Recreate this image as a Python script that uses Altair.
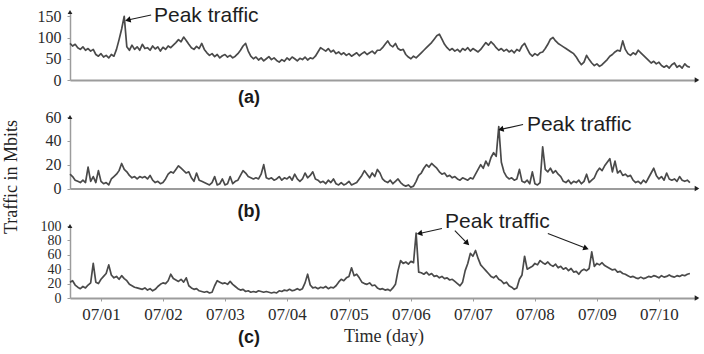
import altair as alt
import pandas as pd

# Hourly traffic samples (Mbits), starting 06/30 12:00
traffic_a = [
    86, 80, 84, 76, 72, 78, 70, 74, 68, 72,
    60, 56, 62, 54, 58, 52, 60, 56, 72, 95,
    120, 150, 78, 70, 82, 72, 78, 70, 84, 74,
    76, 70, 80, 73, 78, 68, 77, 72, 80, 76,
    82, 88, 95, 90, 101, 93, 84, 76, 72, 79,
    74, 86, 72, 64, 58, 62, 55, 60, 52, 57,
    60, 54, 58, 52, 56, 62, 70, 80, 86, 68,
    56, 50, 54, 47, 52, 45, 50, 55, 48, 52,
    46, 42, 48, 44, 52, 47, 54, 50, 45, 51,
    48, 54, 47, 52, 50, 56, 66, 76, 72, 68,
    74, 66, 70, 62, 66, 60, 64, 58, 62, 56,
    60, 64, 57, 62, 66, 60, 64, 68, 62, 70,
    70, 76, 84, 92, 82, 78, 86, 74, 70, 72,
    60, 54, 50, 56, 52, 58, 64, 70, 76, 82,
    88, 96, 104, 108, 96, 84, 76, 70, 74, 68,
    72, 66, 74, 70, 76, 68, 74, 70, 66, 72,
    80, 88, 82, 90, 84, 76, 70, 74, 68, 72,
    66, 70, 64, 72, 68, 80, 86, 74, 62, 56,
    62, 58, 64, 66, 74, 84, 96, 100, 92, 86,
    82, 78, 74, 70, 66, 62, 54, 44, 36, 42,
    58, 48, 40, 34, 38, 32, 36, 42, 48, 56,
    60, 66, 70, 68, 92, 72, 62, 58, 64, 60,
    70, 64, 58, 52, 46, 40, 44, 38, 42, 34,
    30, 34, 28, 36, 40, 30, 34, 28, 38, 32,
    30,
]
traffic_b = [
    12, 10, 7, 6, 5, 7, 5, 18, 6, 10,
    5, 15, 6, 4, 5, 3, 8, 10, 12, 15,
    21, 16, 14, 11, 9, 10, 8, 10, 9, 10,
    8, 11, 7, 5, 6, 4, 5, 8, 12, 14,
    13, 16, 19, 17, 15, 13, 14, 9, 6, 13,
    7, 6, 5, 4, 3, 5, 10, 3, 4, 8,
    3, 4, 10, 4, 6, 7, 11, 15, 13, 10,
    9, 8, 9, 8, 12, 20, 9, 8, 9, 7,
    8, 10, 7, 9, 8, 10, 7, 12, 8, 6,
    8, 13, 9, 11, 14, 8, 7, 5, 6, 4,
    7, 5, 8, 4, 3, 5, 3, 4, 6, 3,
    4, 5, 8, 11, 15, 12, 9, 13, 10, 16,
    13, 8, 6, 5, 7, 4, 6, 8, 5, 3,
    2, 3, 1, 2, 6, 11, 13, 17, 20, 18,
    21, 19, 17, 14, 12, 13, 10, 11, 9, 10,
    8, 7, 9, 8, 7, 9, 8, 12, 16, 20,
    17, 23, 19, 26, 30, 27, 52, 22, 14, 10,
    8, 9, 7, 8, 16, 6, 5, 7, 4, 14,
    4, 3, 5, 35, 16, 14, 17, 13, 15, 12,
    10, 6, 5, 7, 4, 6, 5, 7, 4, 6,
    12, 5, 7, 9, 14, 17, 15, 19, 22, 25,
    14, 23, 13, 15, 11, 12, 10, 11, 7, 5,
    6, 4, 7, 5, 9, 13, 17, 11, 8, 10,
    7, 13, 8, 7, 8, 6, 10, 7, 6, 7,
    5,
]
traffic_c = [
    22, 24, 18, 15, 13, 16, 14, 18, 21, 48,
    22, 20, 26, 30, 34, 46, 32, 28, 30, 26,
    31, 27, 24, 19, 17, 15, 14, 13, 12, 14,
    11, 13, 10, 12, 16, 19, 21, 20, 24, 33,
    27, 25, 23, 26, 22, 28, 17, 14, 12, 13,
    10, 9, 8, 9, 7, 8, 17, 24, 22, 20,
    21, 19, 23, 19, 16, 13, 11, 12, 9, 10,
    8, 9, 8, 10, 9, 8, 9, 8, 7, 8,
    7, 10, 9, 11, 10, 12, 10, 11, 13, 11,
    13, 21, 33, 18, 14, 15, 13, 15, 14, 16,
    13, 15, 14, 17, 22, 26, 24, 28, 30, 42,
    31, 33, 28, 22, 20, 19, 21, 17, 18, 14,
    12, 13, 11, 12, 10, 14, 19, 38, 52, 48,
    50, 47, 51, 49, 90, 36, 35, 33, 36, 32,
    34, 30, 31, 28, 30, 27, 28, 25, 26, 23,
    20, 17, 22, 38, 48, 62, 58, 66, 55, 46,
    42, 38, 34, 30, 28, 31, 26, 24, 20, 22,
    17, 15, 12, 14, 26, 32, 58, 40, 42, 44,
    48, 46, 52, 49, 47, 50, 46, 44, 47, 42,
    44, 40, 42, 38, 41, 36, 37, 33, 38, 40,
    38, 41, 64, 44, 48, 46, 49, 45, 43, 41,
    39, 40, 36, 37, 34, 33, 31, 29, 30, 28,
    27, 29, 27, 28, 30, 29, 31, 30, 28, 31,
    29, 30, 32, 30, 29, 31, 30, 32, 31, 33,
    34,
]

# "Peak traffic" labels: panel, hour offset, value
label_panel = ["a", "b", "c"]
label_hour = [32.5, 176.9, 145.2]
label_value = [150, 53, 105]

# Arrows: panel, start (hour, value), end (hour, value), head angle
arrow_panel = ["a", "b", "c", "c", "c"]
arrow_h1 = [31.4, 175.4, 144.0, 149.0, 185.0]
arrow_v1 = [153, 53.7, 96.5, 93.7, 89.6]
arrow_h2 = [22.4, 166.8, 135.3, 153.8, 199.8]
arrow_v2 = [141, 49.6, 89.6, 76.0, 69.0]
arrow_angle = [166, 165, 168, 45, 21]

day_labels = list(range(1, 11))

START = pd.Timestamp("2012-06-30 12:00")


def at(h):
    return START + pd.Timedelta(hours=h)


series = pd.DataFrame({
    "time": [at(h) for h in range(len(traffic_a))],
    "a": traffic_a,
    "b": traffic_b,
    "c": traffic_c,
})
labels = pd.DataFrame({
    "panel": label_panel,
    "time": [at(h) for h in label_hour],
    "value": label_value,
    "text": ["Peak traffic"] * len(label_panel),
})
arrows = pd.DataFrame({
    "panel": arrow_panel,
    "t1": [at(h) for h in arrow_h1],
    "v1": arrow_v1,
    "t2": [at(h) for h in arrow_h2],
    "v2": arrow_v2,
    "angle": arrow_angle,
})

SERIF = "Liberation Serif"
SANS = "Liberation Sans"
LINE = "#4a4a4a"
AXIS = "#9c9c9c"
TEXT = "#2a2a2a"
W = 627

X_DOMAIN = [
    alt.DateTime(year=2012, month=6, date=30, hours=12),
    alt.DateTime(year=2012, month=7, date=10, hours=14, minutes=45),
]
DAY_TICKS = [alt.DateTime(year=2012, month=7, date=d) for d in day_labels]


def panel(col, ymax, yticks, height, tag, tag_y, label_size=16,
          bottom=False, extra=None):
    if bottom:
        x_axis = alt.Axis(values=DAY_TICKS, format="%m/%d", title="Time (day)",
                          labelFontSize=17, labelPadding=5, tickSize=3,
                          labelOverlap=False, labelFlush=False,
                          titleFont=SERIF, titleFontSize=18, titleFontWeight="normal",
                          titleColor=TEXT, titlePadding=5, domainWidth=2)
    else:
        x_axis = alt.Axis(labels=False, ticks=False, title=None, domainWidth=2)
    x_scale = alt.Scale(domain=X_DOMAIN)
    y_scale = alt.Scale(domain=[0, ymax], nice=False)
    y_axis = alt.Axis(values=yticks, title=None, tickSize=3, labelPadding=6,
                      labelOverlap=False, labelFlush=False,
                      domainWidth=1.5, labelFontSize=label_size)

    line = alt.Chart(series).mark_line(color=LINE, strokeWidth=1.7,
                                       strokeJoin="round").encode(
        x=alt.X("time:T", scale=x_scale, axis=x_axis),
        y=alt.Y(f"{col}:Q", scale=y_scale, axis=y_axis),
    )

    lab = alt.Chart(labels).transform_filter(alt.datum.panel == col).mark_text(
        font=SANS, fontSize=21, align="left", baseline="middle", color="#1e1e1e"
    ).encode(x=alt.X("time:T", scale=x_scale, axis=x_axis),
             y=alt.Y("value:Q", scale=y_scale, axis=y_axis), text="text:N")

    arr = alt.Chart(arrows).transform_filter(alt.datum.panel == col)
    shafts = arr.mark_rule(color="#1e1e1e", strokeWidth=1.1).encode(
        x=alt.X("t1:T", scale=x_scale, axis=x_axis), x2="t2:T",
        y=alt.Y("v1:Q", scale=y_scale, axis=y_axis), y2="v2:Q")
    heads = arr.mark_point(shape="triangle-right", filled=True, size=40,
                           color="#111111", opacity=1).encode(
        x=alt.X("t2:T", scale=x_scale, axis=x_axis),
        y=alt.Y("v2:Q", scale=y_scale, axis=y_axis),
        angle=alt.Angle("angle:Q", scale=None))

    one = pd.DataFrame({"k": [tag]})
    tag_mark = alt.Chart(one).mark_text(
        font=SANS, fontSize=18, fontWeight="bold", color="#1a1a1a",
        align="center", baseline="middle"
    ).encode(x=alt.value(179), y=alt.value(tag_y), text="k:N")

    y_head = alt.Chart(one).mark_point(shape="triangle-up", filled=True, size=22,
                                       color="#222222", opacity=1).encode(
        x=alt.value(0), y=alt.value(0))
    x_head = alt.Chart(one).mark_point(shape="triangle-right", filled=True, size=28,
                                       color="#222222", opacity=1).encode(
        x=alt.value(W), y=alt.value(height))

    layers = [line, shafts, heads, lab, tag_mark, y_head, x_head]
    if extra is not None:
        layers.append(extra)
    return alt.layer(*layers).properties(width=W, height=height)


ytitle = alt.Chart(pd.DataFrame({"t": ["Traffic in Mbits"]})).mark_text(
    font=SERIF, fontSize=18, angle=270, align="center", baseline="middle",
    color="#202020"
).encode(x=alt.value(-58), y=alt.value(60), text="t:N")

pa = panel("a", 160, [0, 50, 100, 150], 68, "(a)", 86)
pb = panel("b", 60, [0, 20, 40, 60], 71.5, "(b)", 95, extra=ytitle)
pc = panel("c", 100, [0, 20, 40, 60, 80, 100], 72, "(c)", 111.5,
           label_size=14, bottom=True)

chart = alt.vconcat(pa, pb, pc, spacing=37, bounds="flush").properties(
    padding={"left": 3, "top": 5, "right": 2, "bottom": 2}
).configure_view(stroke=None).configure_axis(
    domainColor=AXIS, tickColor=AXIS, labelColor=TEXT, labelFont=SERIF,
    grid=False
)

chart.save("out.html", embed_options={"renderer": "svg", "actions": False})
